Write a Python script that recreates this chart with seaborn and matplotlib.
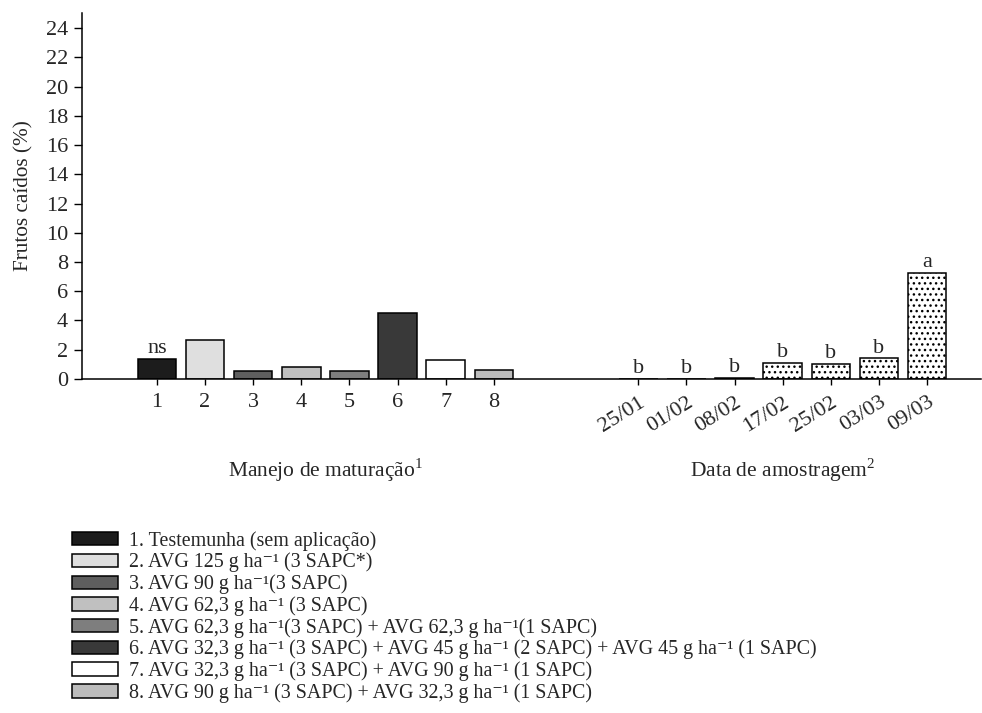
import matplotlib
matplotlib.use("Agg")
import pandas as pd
import seaborn as sns
import matplotlib.pyplot as plt
from matplotlib.patches import Patch


# Manejo de maturação (tratamentos 1..8)
treatments = ["1", "2", "3", "4", "5", "6", "7", "8"]
treatment_values = [1.35, 2.65, 0.55, 0.80, 0.57, 4.53, 1.28, 0.60]
treatment_colors = ["#1c1c1c", "#dfdfdf", "#5e5e5e", "#c0c0c0",
                    "#7e7e7e", "#393939", "#ffffff", "#bcbcbc"]

# Data de amostragem
dates = ["25/01", "01/02", "08/02", "17/02", "25/02", "03/03", "09/03"]
date_values = [0.0, 0.0, 0.05, 1.11, 1.03, 1.41, 7.25]
date_letters = ["b", "b", "b", "b", "b", "b", "a"]

legend_labels = [
    "1. Testemunha (sem aplicação)",
    "2. AVG 125 g ha⁻¹ (3 SAPC*)",
    "3. AVG 90 g ha⁻¹(3 SAPC)",
    "4. AVG 62,3 g ha⁻¹ (3 SAPC)",
    "5. AVG 62,3 g ha⁻¹(3 SAPC) + AVG 62,3 g ha⁻¹(1 SAPC)",
    "6. AVG 32,3 g ha⁻¹ (3 SAPC) + AVG 45 g ha⁻¹ (2 SAPC) + AVG 45 g ha⁻¹ (1 SAPC)",
    "7. AVG 32,3 g ha⁻¹ (3 SAPC) + AVG 90 g ha⁻¹ (1 SAPC)",
    "8. AVG 90 g ha⁻¹ (3 SAPC) + AVG 32,3 g ha⁻¹ (1 SAPC)",
]

sns.set_style("ticks")
plt.rcParams["font.family"] = ["Liberation Serif", "DejaVu Serif"]
plt.rcParams["mathtext.fontset"] = "custom"
plt.rcParams["mathtext.rm"] = "Liberation Serif"
plt.rcParams["hatch.linewidth"] = 1.0

# two groups on one axis, with a gap of two slots between them
pos_treat = list(range(len(treatments)))
pos_dates = list(range(len(treatments) + 2, len(treatments) + 2 + len(dates)))

df = pd.DataFrame({
    "pos": pos_treat + pos_dates,
    "value": treatment_values + date_values,
})
palette = dict(zip(pos_treat, treatment_colors))
palette.update({p: "#ffffff" for p in pos_dates})

fig, ax = plt.subplots(figsize=(9.82, 7.13), dpi=100)
fig.subplots_adjust(left=0.0835, right=0.999, bottom=0.4685, top=0.982)

sns.barplot(data=df, x="pos", y="value", hue="pos", palette=palette,
            native_scale=True, width=0.8, edgecolor="black", linewidth=1.1,
            legend=False, ax=ax)

for bar in ax.patches:
    if bar.get_x() + bar.get_width() / 2 > pos_treat[-1] + 1:
        bar.set_hatch("...")

# letters above bars
ax.text(pos_treat[0], treatment_values[0] + 0.05, "ns", ha="center", va="bottom", fontsize=16)
for p, v, s in zip(pos_dates, date_values, date_letters):
    ax.text(p, v + 0.05, s, ha="center", va="bottom", fontsize=16)

ax.set_xlim(-1.556, 17.12)
ax.set_ylim(0, 25.05)
ax.set_yticks(range(0, 25, 2))
ax.set_xticks(pos_treat + pos_dates)
ax.set_xticklabels(treatments + dates)
for lab in ax.get_xticklabels()[len(treatments):]:
    lab.set_rotation(32)
    lab.set_ha("right")
    lab.set_va("top")
    lab.set_rotation_mode("anchor")

ax.tick_params(axis="both", labelsize=16, width=1, color="black")
ax.tick_params(axis="y", length=6, pad=4)
ax.tick_params(axis="x", length=4, pad=6)
ax.set_xlabel("")
ax.set_ylabel("Frutos caídos (%)", fontsize=15.3, labelpad=9)
sns.despine(ax=ax)
for sp in ("left", "bottom"):
    ax.spines[sp].set_linewidth(1.1)
    ax.spines[sp].set_color("black")

xmid1 = (pos_treat[0] + pos_treat[-1]) / 2
xmid2 = (pos_dates[0] + pos_dates[-1]) / 2
ax.text(xmid1, -0.25, "Manejo de maturação$^{1}$", transform=ax.get_xaxis_transform(),
        ha="center", va="center", fontsize=15.5)
ax.text(xmid2, -0.25, "Data de amostragem$^{2}$", transform=ax.get_xaxis_transform(),
        ha="center", va="center", fontsize=15.5)

handles = [Patch(facecolor=c, edgecolor="black", linewidth=1.1) for c in treatment_colors]
fig.legend(handles, legend_labels, loc="upper left",
           bbox_to_anchor=(72 / 982, 1 - 531 / 713), frameon=False,
           fontsize=14.4, handlelength=2.3, handleheight=0.65,
           handletextpad=0.55, labelspacing=0.1, borderpad=0, borderaxespad=0)

fig.savefig("out.png", dpi=100)
